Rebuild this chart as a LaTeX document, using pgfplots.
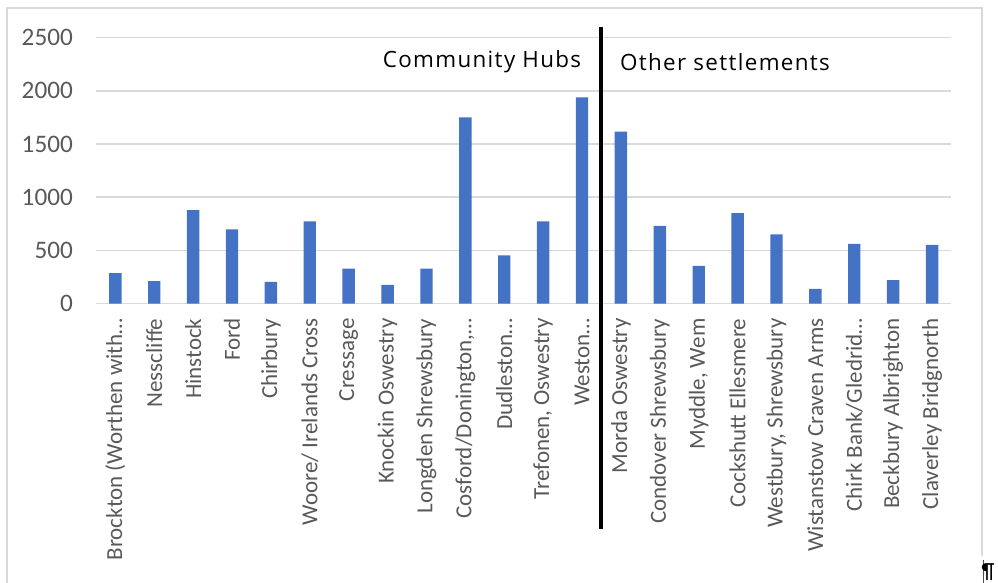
\documentclass[border=0pt]{standalone}
\usepackage{pgfplots}
\pgfplotsset{compat=1.18}
\usepackage{fontspec}
\setmainfont{Carlito}
\newfontfamily\annfont[LetterSpace=6]{Open Sans}
\definecolor{barblue}{HTML}{4472C4}
\definecolor{tickgray}{HTML}{595959}
\definecolor{gridgray}{HTML}{D9D9D9}
\begin{document}
\begin{tikzpicture}
\useasboundingbox (0,0) rectangle (499pt,-291.5pt);
\begin{axis}[
  at={(47.95pt,-151.75pt)}, anchor=south west,
  scale only axis, width=427.8pt, height=132.9pt,
  xmin=-0.5, xmax=21.5, ymin=0, ymax=2500,
  ytick={0,500,1000,1500,2000,2500},
  xtick={0,...,21},
  xticklabels={{Brockton (Worthen with…},Nesscliffe,Hinstock,Ford,Chirbury,{Woore/ Irelands Cross},Cressage,{Knockin Oswestry},{Longden Shrewsbury},{Cosford/Donington,…},{Dudleston…},{Trefonen, Oswestry},{Weston…},{Morda Oswestry},{Condover Shrewsbury},{Myddle, Wem},{Cockshutt Ellesmere},{Westbury, Shrewsbury},{Wistanstow Craven Arms},{Chirk Bank/Gledrid…},{Beckbury Albrighton},{Claverley Bridgnorth}},
  axis line style={draw=none},
  major tick length=0pt,
  ymajorgrids, grid style={gridgray, line width=0.75pt},
  /pgf/number format/assume math mode=true,
  /pgf/number format/set thousands separator={},
  ticklabel style={text=tickgray},
  yticklabel style={anchor=east, xshift=-8pt, font=\fontsize{12.6}{14}\selectfont},
  xticklabel style={rotate=90, anchor=east, font=\fontsize{11.5}{13}\selectfont},
  xticklabel shift=4pt,
  clip=false,
]
\addplot[ybar, bar width=6.2pt, fill=barblue, draw=none] coordinates {
(0,285) (1,210) (2,879) (3,697) (4,203) (5,772) (6,329) (7,176) (8,329) (9,1751) (10,452) (11,772) (12,1939) (13,1616) (14,731) (15,355) (16,850) (17,650) (18,138) (19,562) (20,220) (21,552)
};
\end{axis}
\draw[line width=2pt] (300.25pt,-13.5pt) -- (300.25pt,-264.5pt);
\node[font=\annfont\fontsize{11.2}{13}\selectfont] at (241pt,-31pt) {Community Hubs};
\node[font=\annfont\fontsize{11.2}{13}\selectfont] at (362.5pt,-31pt) {Other settlements};
\draw[gridgray, line width=0.75pt] (3.5pt,-291.5pt) -- (3.5pt,-4pt) -- (491pt,-4pt) -- (491pt,-278pt);
\draw[black!70, line width=0.5pt] (491.5pt,-280pt) -- (491.5pt,-291.5pt);
\node[anchor=north east, inner sep=0.5pt, font=\fontsize{11}{11}\selectfont] at (498pt,-281pt) {¶};
\end{tikzpicture}
\end{document}
